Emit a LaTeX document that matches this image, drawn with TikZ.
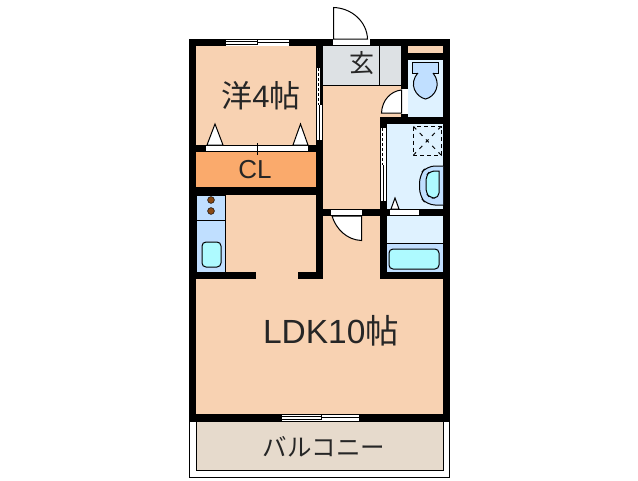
\documentclass[tikz,border=0pt]{standalone}
\usepackage{fontspec}
\setmainfont{Liberation Sans}
\newfontfamily\cjk{Noto Sans CJK JP}
\definecolor{roomfill}{HTML}{F8D2B2}
\definecolor{clfill}{HTML}{FAAA6C}
\definecolor{genkanfill}{HTML}{DDE1E4}
\definecolor{wetfill}{HTML}{DFF2FF}
\definecolor{fixfill}{HTML}{C0DFFF}
\definecolor{tubfill}{HTML}{AEFAFF}
\definecolor{balconyfill}{HTML}{E6DACC}
\definecolor{burner}{HTML}{8A4A14}
\tikzset{wall/.style={fill=black},
  thin line/.style={draw=black,line width=1pt},
  opening/.style={fill=white},
  door leaf/.style={fill=white,draw=black,line width=1pt},
  fixture/.style={fill=fixfill,draw=black,line width=1pt},
  basin/.style={fill=tubfill,draw=black,line width=1pt,rounded corners=4pt},
  label/.style={inner sep=0pt,text=black!85}}
\begin{document}
\begin{tikzpicture}[x=1pt,y=-1pt]
  \useasboundingbox (0,0) rectangle (638,480);
  % floors
  \fill[roomfill] (196,46) rectangle (443,414);
  \fill[clfill] (196,152) rectangle (316,187);
  \fill[genkanfill] (323,46) rectangle (401,85);
  \draw[thin line] (323,85) -- (401,85) (379,46) -- (379,85);
  \fill[wetfill] (408,60) rectangle (443,117);
  \fill[wetfill] (387,124) rectangle (443,209);
  \fill[wetfill] (387,216) rectangle (443,272);
  % balcony
  \draw[thin line] (189.5,421) rectangle (449.5,477.5);
  \draw[thin line,fill=balconyfill] (196,421) rectangle (443.5,470.5);
  % kitchen
  \draw[fixture] (196,195) rectangle (225.5,272);
  \draw[thin line] (196,220) -- (225.5,220);
  \foreach \y in {200,211} \fill[fill=burner,draw=black,line width=0.5pt] (211,\y) circle (3.4pt);
  \node[basin,minimum width=19pt,minimum height=25pt,inner sep=0pt] (kitchensink) at (211.5,254.5) {};
  % walls
  \fill[wall] (189,39) rectangle (196,421);
  \fill[wall] (443,39) rectangle (450,421);
  \fill[wall] (189,39) rectangle (450,46);
  \fill[wall] (189,414) rectangle (450,421);
  \fill[wall] (196,145) rectangle (323,152);
  \fill[wall] (196,187) rectangle (323,195);
  \fill[wall] (316,46) rectangle (323,278);
  \fill[wall] (196,272) rectangle (256,279);
  \fill[wall] (298,272) rectangle (323,279);
  \fill[wall] (316,209) rectangle (443,216);
  \fill[wall] (380,117) rectangle (387,279);
  \fill[wall] (380,272) rectangle (450,279);
  \fill[wall] (380,117) rectangle (443,124);
  \fill[wall] (401,46) rectangle (408,120);
  \fill[wall] (408,53) rectangle (443,60);
  % windows
  \fill[opening] (226,39.5) rectangle (289,45.5);
  \draw[thin line] (226,41) -- (258,41) (226,44) -- (258,44) (258,42.5) -- (289,42.5) (257,40) -- (257,45);
  \fill[opening] (282,414.5) rectangle (359,420.5);
  \draw[thin line] (282,416) -- (321,416) (282,419) -- (321,419) (321,417.5) -- (359,417.5) (321,415) -- (321,420);
  % entrance door
  \fill[opening] (333,39) rectangle (370,45);
  \draw[door leaf] (333.5,7.5) .. controls (352,8) and (367,22) .. (367.5,39) -- (333.5,39) -- cycle;
  \draw[thin line] (333,45.5) -- (370,45.5);
  % closet doors
  \fill[opening] (206,146) rectangle (308,151);
  \draw[thin line] (257,143) -- (257,155);
  \draw[door leaf] (215,124) -- (207,145) -- (223,145) -- cycle;
  \draw[door leaf] (300.5,124) -- (293,145) -- (308,145) -- cycle;
  % sliding door, room
  \fill[opening] (317,68) rectangle (322,105);
  \fill[wall] (319.5,68) rectangle (323,105);
  \draw[thin line,dashed,dash pattern=on 3pt off 2pt] (318.5,68) -- (318.5,105);
  \fill[opening] (317,105) rectangle (322,140);
  \draw[thin line] (319.5,105) -- (319.5,140);
  % toilet
  \fill[opening] (401,89) rectangle (408,114);
  \draw[door leaf] (401.5,90) .. controls (391,91) and (382,100) .. (381.5,113) -- (401.5,113) -- cycle;
  \draw[fixture] (412.5,62.5) rectangle (438.5,73);
  \draw[fixture] (418,73) .. controls (408,84) and (416,97) .. (425.5,99) .. controls (435,97) and (442,84) .. (433,73);
  % washroom
  \fill[opening] (381,128) rectangle (386,201);
  \draw[thin line,dashed,dash pattern=on 3pt off 2pt] (382.5,128) -- (382.5,165);
  \draw[thin line] (383.5,165) -- (383.5,201);
  \draw[thin line,dash pattern=on 4pt off 3pt] (413.5,126.5) rectangle (441,155);
  \draw[thin line,dash pattern=on 4pt off 5pt] (413.5,126.5) -- (441,155) (441,126.5) -- (413.5,155);
  \draw[fixture,rounded corners=8pt] (443,166) -- (427,166) -- (419.5,175) -- (419.5,196) -- (427,205) -- (443,205);
  \draw[thin line,fill=tubfill,rounded corners=5pt] (439,171) -- (430,171) -- (426,176) -- (426,193) -- (430,198) -- (439,198) [sharp corners] -- cycle;
  \draw[door leaf] (395,198) -- (391,209) -- (399,209) -- cycle;
  \fill[opening] (390,210) rectangle (419,215);
  % inner door
  \fill[opening] (331,210) rectangle (362,215);
  \draw[door leaf] (332,216) .. controls (336,229) and (347,240) .. (361.5,240.5) -- (361.5,216) -- cycle;
  % bath
  \fill[fixfill] (387,243) rectangle (443,272);
  \draw[thin line] (387,243) -- (443,243);
  \node[basin,minimum width=50pt,minimum height=20pt,inner sep=0pt] (bathtub) at (414,259) {};
  % labels
  \node[label,font=\fontsize{31}{31}\selectfont] (roomlabel) at (261,96) {{\cjk 洋}4{\cjk 帖}};
  \node[label,font=\fontsize{25}{25}\selectfont\cjk] (genkanlabel) at (362,63.5) {玄};
  \node[label,font=\fontsize{26}{26}\selectfont] (cllabel) at (255,170) {CL};
  \node[label,font=\fontsize{33.5}{33.5}\selectfont] (ldklabel) at (331,331) {LDK10{\cjk 帖}};
  \node[label,font=\fontsize{24.5}{24.5}\selectfont\cjk] (balconylabel) at (324,447) {バルコニー};
\end{tikzpicture}
\end{document}
